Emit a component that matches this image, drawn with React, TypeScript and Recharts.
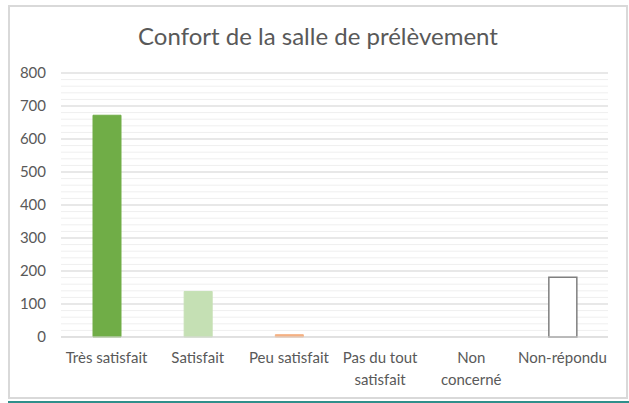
import { BarChart, Bar, XAxis, YAxis, CartesianGrid, Cell } from 'recharts'

const categories = ['Très satisfait', 'Satisfait', 'Peu satisfait', 'Pas du tout\nsatisfait', 'Non\nconcerné', 'Non-répondu']
const counts = [672, 138, 7, 0, 0, 181]
const fills = ['#70AD47', '#C5E0B4', '#F4B183', '#FFFFFF', '#FFFFFF', '#FFFFFF']
const strokes = ['#70AD47', '#C5E0B4', '#F4B183', 'none', 'none', '#7F7F7F']
const majorTicks = [0, 100, 200, 300, 400, 500, 600, 700, 800]
const minorTicks = [0, 20, 40, 60, 80, 100, 120, 140, 160, 180, 200, 220, 240, 260, 280, 300, 320, 340, 360, 380, 400, 420, 440, 460, 480, 500, 520, 540, 560, 580, 600, 620, 640, 660, 680, 700, 720, 740, 760, 780, 800]
const yMax = 800

const data = categories.map((name, i) => ({ name, value: counts[i] }))

const FONT = 'Lato, "Open Sans", sans-serif'

function CategoryTick({ x, y, payload }: any) {
  const lines = String(payload.value).split('\n')
  return (
    <text x={x} y={y + 18} textAnchor="middle" fill="#595959" fontSize={15} fontFamily={FONT}>
      {lines.map((l, i) => (
        <tspan key={i} x={x} dy={i === 0 ? 0 : 22}>{l}</tspan>
      ))}
    </text>
  )
}

// minor grid every 20, mapped through the y scale when it's available
const minorLines = ({ yAxis, offset }: any) => {
  const sc = yAxis && yAxis.scale
  if (typeof sc === 'function') return minorTicks.map((t) => sc(t))
  if (sc && typeof sc.map === 'function') return minorTicks.map((t) => sc.map(t))
  return minorTicks.map((t) => offset.top + offset.height * (1 - t / yMax))
}

export default function App() {
  return (
    <div style={{ position: 'absolute', left: 8, top: 5 }}>
      <div
        style={{
          position: 'relative',
          width: 620,
          height: 394,
          boxSizing: 'border-box',
          border: '2px solid #D9D9D9',
          background: '#fff',
        }}
      >
        <div
          style={{
            position: 'absolute',
            top: 14,
            left: 0,
            width: 616,
            textAlign: 'center',
            fontFamily: FONT,
            fontSize: 24,
            color: '#595959',
          }}
        >
          Confort de la salle de prélèvement
        </div>
        <BarChart width={616} height={390} data={data} margin={{ top: 66, right: 18, left: 0, bottom: 0 }}>
          <CartesianGrid
            vertical={false}
            stroke="#EFEFEF"
            strokeWidth={1}
            horizontalCoordinatesGenerator={minorLines}
          />
          <CartesianGrid vertical={false} stroke="#D9D9D9" strokeWidth={1} />
          <XAxis
            dataKey="name"
            height={60}
            interval={0}
            axisLine={{ stroke: '#D9D9D9' }}
            tickLine={false}
            tick={<CategoryTick />}
          />
          <YAxis
            width={51}
            domain={[0, yMax]}
            ticks={majorTicks}
            type="number"
            axisLine={false}
            tickLine={false}
            tickSize={0}
            tickMargin={15}
            tick={{ fill: '#595959', fontSize: 15, fontFamily: FONT }}
          />
          <Bar dataKey="value" barSize={28} isAnimationActive={false}>
            {data.map((d, i) => (
              <Cell key={d.name} fill={fills[i]} stroke={strokes[i]} strokeWidth={i === 5 ? 1.5 : 1} />
            ))}
          </Bar>
        </BarChart>
      </div>
      <div style={{ width: 621, height: 2, background: '#2F8F8B', marginTop: 2 }} />
    </div>
  )
}
